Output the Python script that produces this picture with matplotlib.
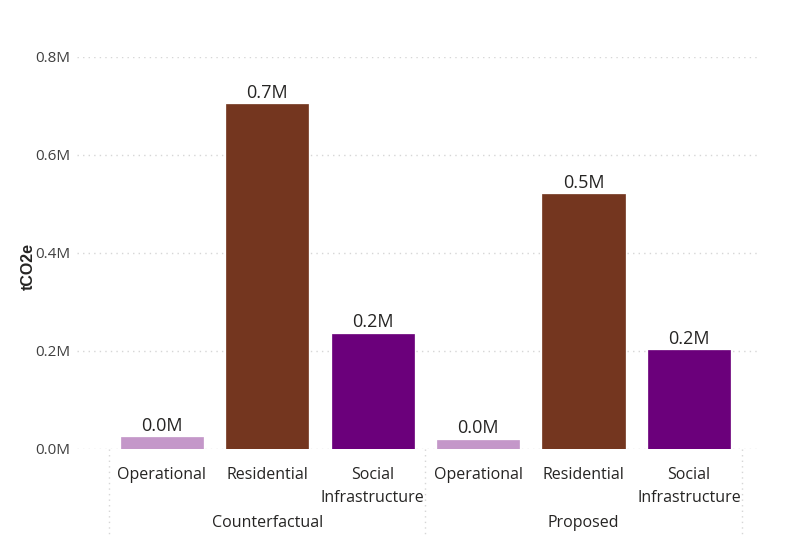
import matplotlib
matplotlib.use("Agg")
import matplotlib.pyplot as plt
import matplotlib.transforms as mtransforms

# ---- data ----
groups = ["Counterfactual", "Proposed"]
categories = ["Operational", "Residential", "Social\nInfrastructure"]
values_counterfactual = [24500, 704000, 235000]
values_proposed = [19000, 520000, 202000]
category_colors = ["#C497C9", "#74361F", "#6B007B"]
y_ticks = [0, 200000, 400000, 600000, 800000]
y_tick_labels = ["0.0M", "0.2M", "0.4M", "0.6M", "0.8M"]
y_label = "tCO2e"

plt.rcParams['font.family'] = ['Open Sans', 'DejaVu Sans']

fig = plt.figure(figsize=(7.95, 5.38), dpi=100)
ax = fig.add_axes([77/795, (538-449)/538, (758-77)/795, (449-57)/538])

all_values = values_counterfactual + values_proposed
labels = categories * len(groups)
colors = category_colors * len(groups)
positions = list(range(len(all_values)))

ax.bar(positions, all_values, width=0.78, color=colors, zorder=3,
       edgecolor=colors, linewidth=0.5)

for x, v in zip(positions, all_values):
    ax.text(x, v + 5000, f"{v/1e6:.1f}M", ha="center", va="bottom",
            fontsize=13, color="#252423", zorder=4)

ax.set_ylim(0, 800000)
ax.set_xlim(-0.806, 5.655)
ax.set_yticks(y_ticks)
ax.set_yticklabels(y_tick_labels, fontsize=11, color="#404040")
ax.set_xticks(positions)
ax.set_xticklabels(labels, fontsize=11.5, color="#252423", linespacing=1.6)
ax.tick_params(axis="both", length=0)
ax.tick_params(axis="x", pad=13)
ax.tick_params(axis="y", pad=5)

ax.set_ylabel(y_label, fontsize=11.5, fontweight="bold", color="#252423",
              family=["Liberation Sans", "DejaVu Sans"])
ax.yaxis.set_label_coords(-0.06, 0.465)

ax.grid(axis="y", color="#D6D6D6", linestyle=(0, (1, 3)), linewidth=1, zorder=0)
for s in ax.spines.values():
    s.set_visible(False)

# group labels and separators
trans = mtransforms.blended_transform_factory(ax.transData, ax.transAxes)
n = len(categories)
for gi, g in enumerate(groups):
    center = gi * n + (n - 1) / 2
    ax.text(center, -0.188, g, transform=trans, ha="center", va="center",
            fontsize=11.5, color="#252423")
for sx in [-0.5 + k * n for k in range(len(groups) + 1)]:
    ax.plot([sx, sx], [0, -0.23], transform=trans, color="#D6D6D6",
            linestyle=(0, (1, 3)), linewidth=1, clip_on=False)

fig.savefig("out.png", dpi=100)
